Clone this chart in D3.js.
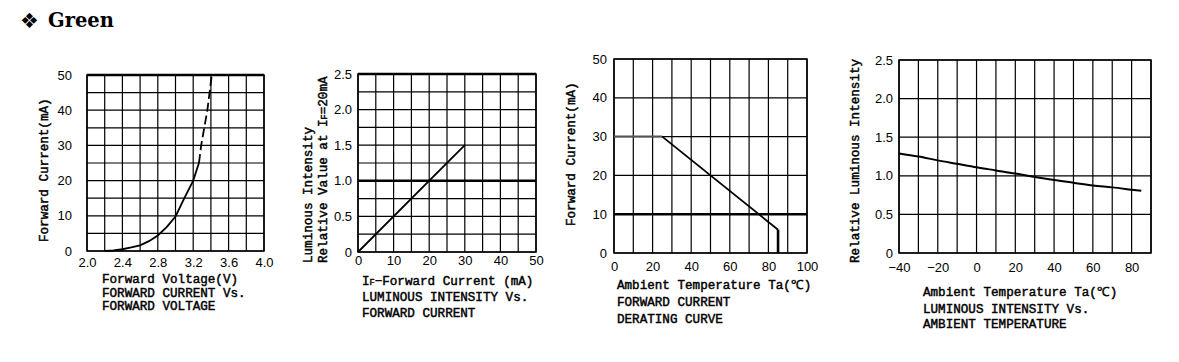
<!DOCTYPE html>
<html>
<head>
<meta charset="utf-8">
<script src="https://cdn.jsdelivr.net/npm/d3@7"></script>
<style>
  body { margin: 0; background: #fff; }
  .tick text { font-family: "Liberation Sans", Arial, sans-serif; font-size: 13px; fill: #000; }
  .lbl { font-family: "Liberation Mono", "Courier New", monospace; font-size: 12.6px; fill: #000; stroke: #000; stroke-width: 0.45px; }
</style>
</head>
<body>
<script>
// ---- data ----

// 1. forward current vs forward voltage
const ivVoltage = [2.2, 2.3, 2.4, 2.5, 2.6, 2.7, 2.8, 2.9, 3.0, 3.1, 3.2, 3.265];
const ivCurrent = [0, 0.2, 0.5, 1.0, 1.6, 2.8, 4.4, 6.8, 9.8, 15, 20, 25];
const ivDashVoltage = [3.265, 3.29, 3.36, 3.41];
const ivDashCurrent = [25, 30, 40, 50];
const ivTicksX = [2.0, 2.4, 2.8, 3.2, 3.6, 4.0];
const ivTicksY = [0, 10, 20, 30, 40, 50];

// 2. relative luminous intensity vs forward current
const liCurrent = [0, 30];
const liValue = [0, 1.5];
const liTicksX = [0, 10, 20, 30, 40, 50];
const liTicksY = [0, 0.5, 1.0, 1.5, 2.0, 2.5];

// 3. derating curve
const drTemp = [0, 25, 85, 85];
const drCurrent = [30, 30, 6, 0];
const drTicksX = [0, 20, 40, 60, 80, 100];
const drTicksY = [0, 10, 20, 30, 40, 50];

// 4. relative luminous intensity vs ambient temperature
const ltTemp = [-40, -30, -20, -10, 0, 10, 20, 30, 40, 50, 60, 70, 80, 85];
const ltValue = [1.29, 1.25, 1.2, 1.155, 1.11, 1.07, 1.03, 0.985, 0.945, 0.91, 0.875, 0.85, 0.82, 0.805];
const ltTicksX = [-40, -20, 0, 20, 40, 60, 80];
const ltTicksY = [0, 0.5, 1.0, 1.5, 2.0, 2.5];

const svg = d3.select("body").append("svg")
  .attr("width", 1179)
  .attr("height", 362);

// header
svg.append("text")
  .attr("x", 20).attr("y", 28)
  .style("font-family", "DejaVu Sans")
  .style("font-size", "21px")
  .text("\u2756");
svg.append("text")
  .attr("x", 48).attr("y", 27)
  .style("font-family", "DejaVu Serif")
  .style("font-weight", "bold")
  .style("font-size", "19.5px")
  .text("Green");

// draws the grid box, tick labels and titles, returns the scales
function panel(o) {
  const x = d3.scaleLinear().domain(o.xDomain).range([o.left, o.right]);
  const y = d3.scaleLinear().domain(o.yDomain).range([o.bottom, o.top]);
  const g = svg.append("g");

  g.selectAll(".gx").data(o.gridX).enter().append("line")
    .attr("x1", d => x(d)).attr("x2", d => x(d))
    .attr("y1", o.top).attr("y2", o.bottom)
    .attr("stroke", "#000").attr("stroke-width", 1.2);
  g.selectAll(".gy").data(o.gridY).enter().append("line")
    .attr("y1", d => y(d)).attr("y2", d => y(d))
    .attr("x1", o.left).attr("x2", o.right)
    .attr("stroke", "#000").attr("stroke-width", 1.2);
  g.append("rect")
    .attr("x", o.left).attr("y", o.top)
    .attr("width", o.right - o.left).attr("height", o.bottom - o.top)
    .attr("fill", "none").attr("stroke", "#000").attr("stroke-width", 1.5);
  if (o.thickTop) {
    g.append("line")
      .attr("x1", o.left).attr("x2", o.right)
      .attr("y1", o.top).attr("y2", o.top)
      .attr("stroke", "#000").attr("stroke-width", 2.6);
  }

  const ax = g.append("g").attr("transform", `translate(0,${o.bottom})`)
    .call(d3.axisBottom(x).tickValues(o.ticksX).tickSize(0).tickPadding(o.padX).tickFormat(o.fmtX));
  ax.select(".domain").remove();
  const ay = g.append("g").attr("transform", `translate(${o.left},0)`)
    .call(d3.axisLeft(y).tickValues(o.ticksY).tickSize(0).tickPadding(o.padY).tickFormat(o.fmtY));
  ay.select(".domain").remove();

  // x titles; an array item is a list of [text, isSubscript] runs
  o.xTitle.forEach((t, i) => {
    addRuns(g.append("text").attr("class", "lbl")
      .attr("x", o.xTitleX).attr("y", o.xTitleY[i]), t);
  });
  // y titles, rotated, start at the bottom
  o.yTitle.forEach((t, i) => {
    addRuns(g.append("text").attr("class", "lbl")
      .attr("transform", `translate(${o.yTitleX[i]},${o.yTitleY}) rotate(-90)`), t);
  });
  return { x, y, g };
}

function addRuns(sel, t) {
  if (typeof t === "string") { sel.text(t); return; }
  t.forEach(r => {
    const s = sel.append("tspan").text(r[0]);
    if (r[1]) s.style("font-size", "8.5px");
  });
}

const fmtRel = d => d === 0 ? "0" : d3.format(".1f")(d);

// ---- panel 1 ----
const p1 = panel({
  left: 87, right: 264, top: 75, bottom: 251,
  xDomain: [2, 4], yDomain: [0, 50],
  gridX: d3.range(0, 11).map(i => 2 + i * 0.2), gridY: d3.range(0, 11).map(i => i * 5),
  ticksX: ivTicksX, ticksY: ivTicksY, padX: 7, padY: 15,
  fmtX: d3.format(".1f"), fmtY: d3.format("d"),
  thickTop: true,
  xTitle: ["Forward Voltage(V)", "FORWARD CURRENT Vs.", "FORWARD VOLTAGE"],
  xTitleX: 102, xTitleY: [283, 297, 310],
  yTitle: ["Forward Current(mA)"], yTitleX: [48], yTitleY: 242
});
const line1 = d3.line().x(d => p1.x(d[0])).y(d => p1.y(d[1]));
p1.g.append("path")
  .attr("d", line1(d3.zip(ivVoltage, ivCurrent)))
  .attr("fill", "none").attr("stroke", "#000").attr("stroke-width", 1.8);
p1.g.append("path")
  .attr("d", line1(d3.zip(ivDashVoltage, ivDashCurrent)))
  .attr("fill", "none").attr("stroke", "#000").attr("stroke-width", 1.8)
  .attr("stroke-dasharray", "9,4");

// ---- panel 2 ----
const p2 = panel({
  left: 358, right: 536, top: 74, bottom: 252,
  xDomain: [0, 50], yDomain: [0, 2.5],
  gridX: d3.range(0, 11).map(i => i * 5), gridY: d3.range(0, 11).map(i => i * 0.25),
  ticksX: liTicksX, ticksY: liTicksY, padX: 4, padY: 6,
  fmtX: d3.format("d"), fmtY: fmtRel,
  thickTop: true,
  xTitle: [[["I"], ["F", true], ["\u2212Forward Current (mA)"]], "LUMINOUS INTENSITY Vs.", "FORWARD CURRENT"],
  xTitleX: 362, xTitleY: [285, 301, 317],
  yTitle: ["Luminous Intensity", [["Relative Value at I"], ["F", true], ["=20mA"]]], yTitleX: [312, 327], yTitleY: 263
});
p2.g.append("line")
  .attr("x1", p2.x(0)).attr("x2", p2.x(50))
  .attr("y1", p2.y(1)).attr("y2", p2.y(1))
  .attr("stroke", "#000").attr("stroke-width", 2.6);
p2.g.append("path")
  .attr("d", d3.line().x(d => p2.x(d[0])).y(d => p2.y(d[1]))(d3.zip(liCurrent, liValue)))
  .attr("fill", "none").attr("stroke", "#000").attr("stroke-width", 1.8);

// ---- panel 3 ----
const p3 = panel({
  left: 614, right: 807, top: 59, bottom: 253,
  xDomain: [0, 100], yDomain: [0, 50],
  gridX: d3.range(0, 11).map(i => i * 10), gridY: d3.range(0, 6).map(i => i * 10),
  ticksX: drTicksX, ticksY: drTicksY, padX: 9, padY: 7,
  fmtX: d3.format("d"), fmtY: d3.format("d"),
  thickTop: false,
  xTitle: ["Ambient Temperature Ta(\u2103)", "FORWARD CURRENT", "DERATING CURVE"],
  xTitleX: 617, xTitleY: [289, 306, 323],
  yTitle: ["Forward Current(mA)"], yTitleX: [575], yTitleY: 226
});
p3.g.append("line")
  .attr("x1", p3.x(0)).attr("x2", p3.x(100))
  .attr("y1", p3.y(10)).attr("y2", p3.y(10))
  .attr("stroke", "#000").attr("stroke-width", 2.6);
const der = d3.zip(drTemp, drCurrent);
const derLine = d3.line().x(d => p3.x(d[0])).y(d => p3.y(d[1]));
p3.g.append("path")
  .attr("d", derLine(der.slice(0, 2)))
  .attr("fill", "none").attr("stroke", "#555").attr("stroke-width", 2);
p3.g.append("path")
  .attr("d", derLine(der.slice(1, 3)))
  .attr("fill", "none").attr("stroke", "#000").attr("stroke-width", 1.8);
p3.g.append("path")
  .attr("d", derLine(der.slice(2)))
  .attr("fill", "none").attr("stroke", "#000").attr("stroke-width", 2.6);

// ---- panel 4 ----
const p4 = panel({
  left: 899, right: 1151, top: 60, bottom: 253,
  xDomain: [-40, 90], yDomain: [0, 2.5],
  gridX: d3.range(0, 14).map(i => -40 + i * 10), gridY: d3.range(0, 6).map(i => i * 0.5),
  ticksX: ltTicksX, ticksY: ltTicksY, padX: 10, padY: 6,
  fmtX: d3.format("d"), fmtY: fmtRel,
  thickTop: false,
  xTitle: ["Ambient Temperature Ta(\u2103)", "LUMINOUS INTENSITY Vs.", "AMBIENT TEMPERATURE"],
  xTitleX: 923, xTitleY: [296, 313, 328],
  yTitle: ["Relative Luminous Intensity"], yTitleX: [859], yTitleY: 263
});
p4.g.append("path")
  .attr("d", d3.line().curve(d3.curveMonotoneX).x(d => p4.x(d[0])).y(d => p4.y(d[1]))(d3.zip(ltTemp, ltValue)))
  .attr("fill", "none").attr("stroke", "#000").attr("stroke-width", 2);
</script>
</body>
</html>
